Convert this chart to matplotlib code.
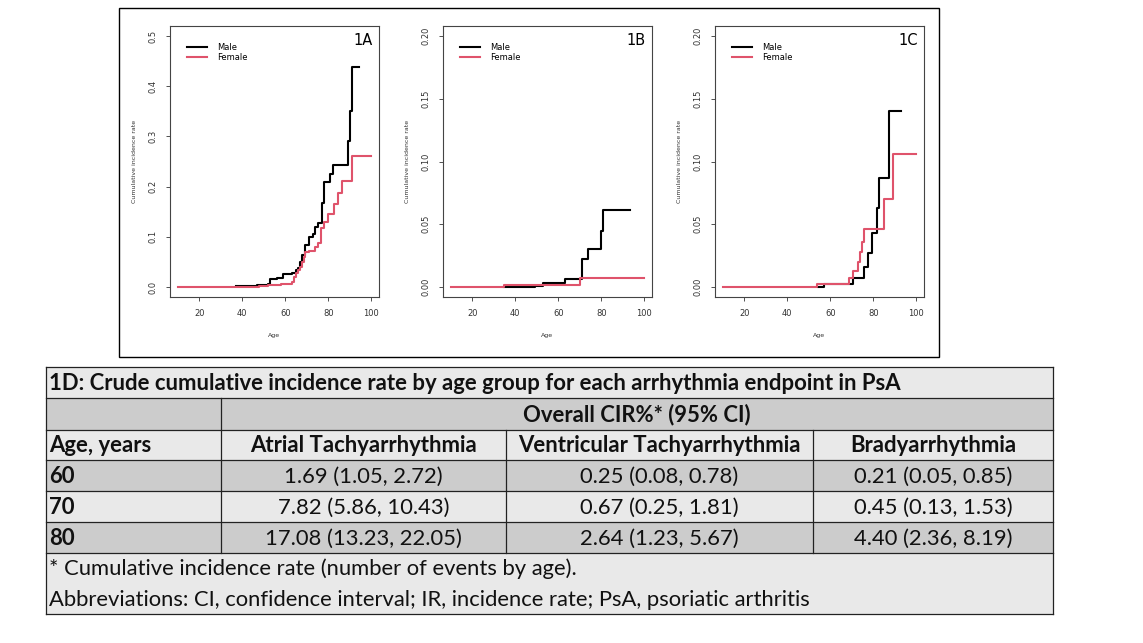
import matplotlib
matplotlib.use("Agg")
import matplotlib.pyplot as plt
from matplotlib.patches import Rectangle

# curvas de incidencia acumulada
a_male_age = [37, 47, 52, 53, 56, 59, 63, 65, 66, 67, 68, 69, 71, 73, 74, 75, 77, 78, 81, 82, 89, 90, 91, 94.3]
a_male_cir = [0.001, 0.003, 0.005, 0.015, 0.017, 0.025, 0.028, 0.033, 0.038, 0.05, 0.063, 0.083,
              0.1, 0.105, 0.12, 0.128, 0.167, 0.21, 0.225, 0.243, 0.29, 0.35, 0.438, 0.438]
a_female_age = [10, 48, 52, 58, 63, 64, 65, 66, 67, 68, 68.5, 69, 71, 74, 75, 76.5, 78, 80, 82.5, 84.5, 86.5, 91, 100]
a_female_cir = [0, 0.002, 0.004, 0.006, 0.009, 0.02, 0.027, 0.033, 0.04, 0.05, 0.06, 0.07,
                0.072, 0.08, 0.088, 0.117, 0.13, 0.145, 0.165, 0.187, 0.212, 0.26, 0.26]

b_male_age = [35, 49, 53, 63, 71, 74, 80, 81, 93.2]
b_male_cir = [0, 0.001, 0.003, 0.006, 0.022, 0.03, 0.045, 0.061, 0.061]
b_female_age = [10, 35, 70, 100]
b_female_cir = [0, 0.0013, 0.007, 0.007]

c_male_age = [54.3, 57, 70.7, 75.5, 77.7, 79.4, 81.9, 82.7, 87.5, 93]
c_male_cir = [0, 0.002, 0.007, 0.016, 0.027, 0.043, 0.063, 0.087, 0.14, 0.14]
c_female_age = [10, 54, 68.8, 70.7, 73, 73.8, 74.9, 75.9, 84.9, 89.1, 100]
c_female_cir = [0, 0.002, 0.007, 0.013, 0.02, 0.028, 0.036, 0.046, 0.07, 0.106, 0.106]

# tabla 1D
table_title = "1D: Crude cumulative incidence rate by age group for each arrhythmia endpoint in PsA"
group_header = "Overall CIR%* (95% CI)"
age_header = "Age, years"
age_groups = ["60", "70", "80"]
endpoints = ["Atrial Tachyarrhythmia", "Ventricular Tachyarrhythmia", "Bradyarrhythmia"]
cir_atrial = ["1.69 (1.05, 2.72)", "7.82 (5.86, 10.43)", "17.08 (13.23, 22.05)"]
cir_ventricular = ["0.25 (0.08, 0.78)", "0.67 (0.25, 1.81)", "2.64 (1.23, 5.67)"]
cir_brady = ["0.21 (0.05, 0.85)", "0.45 (0.13, 1.53)", "4.40 (2.36, 8.19)"]
footnotes = ["* Cumulative incidence rate (number of events by age).",
             "Abbreviations: CI, confidence interval; IR, incidence rate; PsA, psoriatic arthritis"]

W, H = 1143, 643
MALE = "black"
FEMALE = "#DF536B"

fig = plt.figure(figsize=(W / 100, H / 100), dpi=100)

# marco exterior de las figuras
frame = fig.add_axes([0, 0, 1, 1])
frame.set_xlim(0, W)
frame.set_ylim(H, 0)
frame.axis("off")
frame.add_patch(Rectangle((119, 8), 820, 349, fill=False, lw=1, ec="black"))

panels = [
    (170, "1A", 0.5, 0.1, a_male_age, a_male_cir, a_female_age, a_female_cir),
    (443, "1B", 0.2, 0.05, b_male_age, b_male_cir, b_female_age, b_female_cir),
    (715, "1C", 0.2, 0.05, c_male_age, c_male_cir, c_female_age, c_female_cir),
]

for left, tag, ymax, ystep, m_age, m_cir, f_age, f_cir in panels:
    ax = fig.add_axes([left / W, 1 - 297 / H, 209 / W, 271 / H])
    ax.step(m_age, m_cir, where="post", color=MALE, lw=1.5)
    ax.step(f_age, f_cir, where="post", color=FEMALE, lw=1.5)
    ax.set_xlim(10 - 3.6, 100 + 3.6)
    ax.set_ylim(-0.04 * ymax, 1.04 * ymax)
    ax.set_xticks([20, 40, 60, 80, 100])
    n = int(round(ymax / ystep))
    yt = [i * ystep for i in range(n + 1)]
    ax.set_yticks(yt)
    if ystep == 0.1:
        ax.set_yticklabels(["%.1f" % v for v in yt])
    else:
        ax.set_yticklabels(["%.2f" % v for v in yt])
    ax.tick_params(labelsize=6, length=3, width=0.6, colors="#333333", pad=6)
    ax.tick_params(axis="y", labelrotation=90, pad=6)
    for lab in ax.get_yticklabels():
        lab.set_va("center")
    for s in ax.spines.values():
        s.set_color("#444444")
        s.set_linewidth(0.8)
    ax.set_xlabel("Age", fontsize=4.5, color="#333333")
    ax.xaxis.set_label_coords(0.5, -36 / 271)
    ax.set_ylabel("Cumulative incidence rate", fontsize=4.5, color="#333333")
    ax.yaxis.set_label_coords(-33 / 209, 0.5)
    # leyenda
    ax.plot([0.081, 0.177], [0.922, 0.922], color=MALE, lw=1.5, transform=ax.transAxes)
    ax.plot([0.081, 0.177], [0.885, 0.885], color=FEMALE, lw=1.5, transform=ax.transAxes)
    ax.text(0.225, 0.922, "Male", fontsize=6, va="center", transform=ax.transAxes)
    ax.text(0.225, 0.885, "Female", fontsize=6, va="center", transform=ax.transAxes)
    ax.text(0.97, 0.948, tag, fontsize=10.5, ha="right", va="center", transform=ax.transAxes)

# tabla
tab = frame
LIGHT = "#e9e9e9"
DARK = "#cccccc"
x0, x1 = 46, 1053
cols = [46, 221, 506, 813, 1053]
rows = [367, 398, 430, 460, 491, 522, 553, 614]
fills = [LIGHT, DARK, LIGHT, DARK, LIGHT, DARK, LIGHT]
for i in range(len(rows) - 1):
    tab.add_patch(Rectangle((x0, rows[i]), x1 - x0, rows[i + 1] - rows[i], fc=fills[i], ec="none"))
for y in rows:
    tab.plot([x0, x1], [y, y], color="#222222", lw=0.9)
tab.plot([x0, x0], [rows[0], rows[-1]], color="#222222", lw=0.9)
tab.plot([x1, x1], [rows[0], rows[-1]], color="#222222", lw=0.9)
tab.plot([cols[1], cols[1]], [rows[1], rows[6]], color="#222222", lw=0.9)
for c in cols[2:4]:
    tab.plot([c, c], [rows[2], rows[6]], color="#222222", lw=0.9)

FONT = "Lato"
FS = 12.5
tx = 49
bold_texts = []
reg_texts = []


def mid(i):
    return (rows[i] + rows[i + 1]) / 2 + 1


def put(x, y, s, bold=False, ha="left"):
    t = tab.text(x, y, s, fontsize=FS, fontweight="bold" if bold else "normal", family=FONT,
                 ha=ha, va="center", color="#111111")
    (bold_texts if bold else reg_texts).append(t)
    return t


t_title = put(tx, mid(0), table_title, bold=True)
put((cols[1] + x1) / 2, mid(1), group_header, bold=True, ha="center")
put(tx, mid(2), age_header, bold=True)
for j, name in enumerate(endpoints):
    put((cols[j + 1] + cols[j + 2]) / 2, mid(2), name, bold=True, ha="center")
for i, age in enumerate(age_groups):
    put(tx, mid(3 + i), age, bold=True)
    for j, vals in enumerate([cir_atrial, cir_ventricular, cir_brady]):
        put((cols[j + 1] + cols[j + 2]) / 2, mid(3 + i), vals[i], ha="center")
put(tx, 569, footnotes[0])
t_foot = put(tx, 600, footnotes[1])

# ajustar el tamaño de letra al ancho del texto original
renderer = fig.canvas.get_renderer()
k_bold = 855 / t_title.get_window_extent(renderer).width
k_reg = 764 / t_foot.get_window_extent(renderer).width
for t in bold_texts:
    t.set_fontsize(FS * k_bold)
for t in reg_texts:
    t.set_fontsize(FS * k_reg)

fig.savefig("out.png", dpi=100)
